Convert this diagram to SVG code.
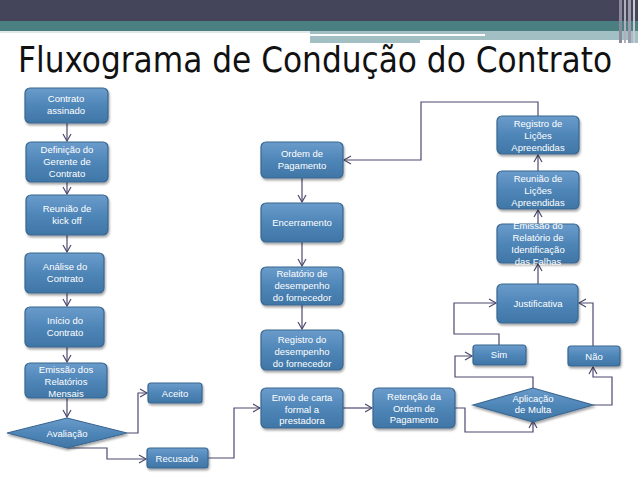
<svg xmlns="http://www.w3.org/2000/svg" width="638" height="479" viewBox="0 0 638 479">
<defs>
<linearGradient id="g" x1="0" y1="0" x2="0" y2="1">
<stop offset="0" stop-color="#6a9ccb"/>
<stop offset="0.5" stop-color="#4f86b8"/>
<stop offset="1" stop-color="#3f76a6"/>
</linearGradient>
<filter id="sh" x="-10%" y="-10%" width="130%" height="140%">
<feDropShadow dx="1" dy="2" stdDeviation="1.2" flood-color="#000" flood-opacity="0.35"/>
</filter>
<marker id="ar" markerWidth="10" markerHeight="10" refX="8" refY="5" orient="auto" markerUnits="userSpaceOnUse">
<path d="M1,1 L8,5 L1,9" fill="none" stroke="#4c4a6e" stroke-width="1.2"/>
</marker>
</defs>
<style>
.n{fill:url(#g);stroke:#3a6690;stroke-width:1.2;filter:url(#sh)}
.t{font-family:"Liberation Sans",Arial,sans-serif;font-size:9.5px;fill:#fff;text-anchor:middle}
.c{fill:none;stroke:#4c4a6e;stroke-width:1.2;marker-end:url(#ar)}
</style>
<rect width="638" height="479" fill="#fff"/>
<g id="header">
<rect x="0" y="0" width="638" height="21" fill="#44455a"/>
<rect x="0" y="21" width="638" height="10" fill="#4a8082"/>
<rect x="310" y="31" width="328" height="12" fill="#a2c0c3"/>
<rect x="0" y="31" width="310" height="2" fill="#dfe9ea"/>
<rect x="310" y="34" width="175" height="2" fill="#ffffff"/>
<rect x="420" y="40" width="210" height="3" fill="#ffffff"/>
<rect x="619" y="0" width="3" height="43" fill="#8a8a9a"/>
<rect x="624" y="0" width="2" height="43" fill="#b0b0bc"/>
<rect x="628" y="0" width="3" height="43" fill="#9a9aaa"/>
<rect x="633" y="0" width="2" height="43" fill="#c8c8d2"/>
</g>
<text id="title" x="18" y="72" font-family="'DejaVu Sans Condensed','DejaVu Sans',sans-serif" font-stretch="condensed" font-size="35" fill="#111" textLength="594" lengthAdjust="spacingAndGlyphs">Fluxograma de Condução do Contrato</text>
<g id="connectors">
<path class="c" d="M67,123 V141"/>
<path class="c" d="M67,182 V194"/>
<path class="c" d="M67,235 V252"/>
<path class="c" d="M67,293 V306"/>
<path class="c" d="M67,347 V362"/>
<path class="c" d="M67,398 V417"/>
<path class="c" d="M127,433 H138 V393 H147"/>
<path class="c" d="M67,448 H107 V459 H146"/>
<path class="c" d="M208,458 H234 V408 H260"/>
<path class="c" d="M343,408 H372"/>
<path class="c" d="M455,408 H465 V432 H533 V421"/>
<path class="c" d="M533,388 V377 H455 V356 H472"/>
<path class="c" d="M593,405 H612 V377 H593 V367"/>
<path class="c" d="M499,345 V334 H454 V303 H496"/>
<path class="c" d="M593,346 V303 H579"/>
<path class="c" d="M538,284 V264"/>
<path class="c" d="M538,224 V210"/>
<path class="c" d="M538,171 V155"/>
<path class="c" d="M538,116 V102 H421 V160 H344"/>
<path class="c" d="M302,178 V202"/>
<path class="c" d="M302,242 V266"/>
<path class="c" d="M302,305 V329"/>
</g>
<g id="n1"><rect class="n" x="25" y="88" width="83" height="35" rx="5"/><text class="t" x="66" y="102">Contrato</text><text class="t" x="66" y="114">assinado</text></g>
<g id="n2"><rect class="n" x="26" y="142" width="82" height="40" rx="5"/><text class="t" x="67" y="153">Definição do</text><text class="t" x="67" y="165">Gerente de</text><text class="t" x="67" y="177">Contrato</text></g>
<g id="n3"><rect class="n" x="26" y="195" width="82" height="40" rx="5"/><text class="t" x="67" y="212">Reunião de</text><text class="t" x="67" y="224">kick off</text></g>
<g id="n4"><rect class="n" x="25" y="253" width="79" height="40" rx="5"/><text class="t" x="65" y="270">Análise do</text><text class="t" x="65" y="282">Contrato</text></g>
<g id="n5"><rect class="n" x="25" y="307" width="79" height="40" rx="5"/><text class="t" x="65" y="324">Início do</text><text class="t" x="65" y="336">Contrato</text></g>
<g id="n6"><rect class="n" x="25" y="363" width="82" height="35" rx="5"/><text class="t" x="66" y="373">Emissão dos</text><text class="t" x="66" y="385">Relatórios</text><text class="t" x="66" y="397">Mensais</text></g>
<g id="n7"><polygon class="n" points="7,433 67,418 127,433 67,448"/><text class="t" x="67" y="437">Avaliação</text></g>
<g id="n8"><rect class="n" x="148" y="383" width="54" height="20" rx="3"/><text class="t" x="175" y="397">Aceito</text></g>
<g id="n9"><rect class="n" x="147" y="448" width="61" height="20" rx="3"/><text class="t" x="177" y="462">Recusado</text></g>
<g id="n10"><rect class="n" x="261" y="142" width="82" height="36" rx="5"/><text class="t" x="302" y="157">Ordem de</text><text class="t" x="302" y="169">Pagamento</text></g>
<g id="n11"><rect class="n" x="261" y="203" width="82" height="39" rx="5"/><text class="t" x="302" y="226">Encerramento</text></g>
<g id="n12"><rect class="n" x="261" y="267" width="82" height="38" rx="5"/><text class="t" x="302" y="277">Relatório de</text><text class="t" x="302" y="289">desempenho</text><text class="t" x="302" y="301">do fornecedor</text></g>
<g id="n13"><rect class="n" x="261" y="330" width="82" height="40" rx="5"/><text class="t" x="302" y="343">Registro do</text><text class="t" x="302" y="355">desempenho</text><text class="t" x="302" y="367">do fornecedor</text></g>
<g id="n14"><rect class="n" x="261" y="388" width="82" height="40" rx="5"/><text class="t" x="302" y="401">Envio de carta</text><text class="t" x="302" y="413">formal a</text><text class="t" x="302" y="424">prestadora</text></g>
<g id="n15"><rect class="n" x="373" y="388" width="82" height="40" rx="5"/><text class="t" x="414" y="400">Retenção da</text><text class="t" x="414" y="412">Ordem de</text><text class="t" x="414" y="423">Pagamento</text></g>
<g id="n16"><polygon class="n" points="473,405 533,388 593,405 533,422"/><text class="t" x="533" y="402">Aplicação</text><text class="t" x="533" y="413">de Multa</text></g>
<g id="n17"><rect class="n" x="473" y="345" width="53" height="20" rx="3"/><text class="t" x="499" y="358">Sim</text></g>
<g id="n18"><rect class="n" x="568" y="346" width="52" height="20" rx="3"/><text class="t" x="594" y="360">Não</text></g>
<g id="n19"><rect class="n" x="497" y="284" width="81" height="39" rx="5"/><text class="t" x="538" y="307">Justificativa</text></g>
<g id="n20"><rect class="n" x="497" y="224" width="82" height="39" rx="5"/><text class="t" x="538" y="229">Emissão do</text><text class="t" x="538" y="241">Relatório de</text><text class="t" x="538" y="253">Identificação</text><text class="t" x="538" y="265">das Falhas</text></g>
<g id="n21"><rect class="n" x="497" y="171" width="82" height="38" rx="5"/><text class="t" x="538" y="182">Reunião de</text><text class="t" x="538" y="194">Lições</text><text class="t" x="538" y="206">Apreendidas</text></g>
<g id="n22"><rect class="n" x="497" y="116" width="82" height="38" rx="5"/><text class="t" x="538" y="127">Registro de</text><text class="t" x="538" y="139">Lições</text><text class="t" x="538" y="151">Apreendidas</text></g>
</svg>
